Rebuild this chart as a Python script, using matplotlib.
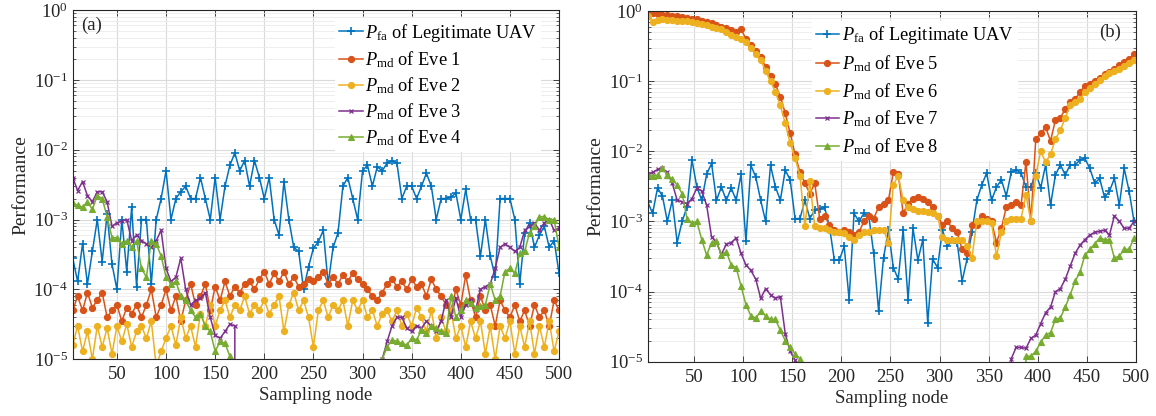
import numpy as np
import matplotlib
matplotlib.use("Agg")
import matplotlib.pyplot as plt

plt.rcParams['font.family'] = ['Liberation Serif', 'DejaVu Serif']
plt.rcParams['mathtext.fontset'] = 'custom'
plt.rcParams['mathtext.rm'] = 'Liberation Serif'
plt.rcParams['mathtext.it'] = 'Liberation Serif:italic'
plt.rcParams['mathtext.bf'] = 'Liberation Serif:bold'

# ---------------- data: panel (a) ----------------
x_a = np.arange(5, 501, 5)
pfa_a = [2.8e-4, 1.3e-4, 4.5e-4, 1.2e-4, 3.5e-4, 1.0e-3, 2.5e-4, 1.2e-3, 2.3e-4, 1.0e-4,
         1.0e-3, 1.8e-4, 1.5e-3, 1.1e-4, 1.0e-3, 1.0e-3, 1.2e-4, 1.0e-3, 2.0e-3, 5.0e-3,
         1.0e-3, 2.0e-3, 2.5e-3, 3.0e-3, 2.0e-3, 2.0e-3, 4.0e-3, 2.0e-3, 1.0e-3, 4.0e-3,
         1.0e-3, 3.0e-3, 6.0e-3, 9.0e-3, 5.0e-3, 7.0e-3, 3.0e-3, 7.0e-3, 4.0e-3, 2.0e-3,
         4.0e-3, 1.0e-3, 6.0e-4, 3.5e-3, 1.0e-3, 4.0e-4, 3.5e-4, 1.0e-4, 2.1e-4, 3.9e-4,
         4.8e-4, 7.0e-4, 1.2e-4, 4.0e-4, 6.4e-4, 3.0e-3, 4.0e-3, 2.0e-3, 1.0e-3, 5.0e-3,
         6.0e-3, 3.0e-3, 5.7e-3, 5.0e-3, 6.4e-3, 7.0e-3, 6.4e-3, 2.0e-3, 3.0e-3, 3.0e-3,
         2.0e-3, 3.0e-3, 4.6e-3, 3.0e-3, 1.0e-3, 2.0e-3, 2.0e-3, 2.1e-3, 2.4e-3, 1.0e-3,
         2.7e-3, 1.0e-3, 1.0e-3, 3.0e-4, 1.0e-3, 3.0e-4, 1.5e-4, 2.0e-3, 2.0e-3, 2.0e-3,
         1.0e-3, 1.2e-4, 6.4e-4, 9.0e-4, 4.0e-4, 6.0e-4, 8.0e-4, 4.0e-4, 5.0e-4, 1.7e-4]
eve1 = [5e-5, 8e-5, 5e-5, 9e-5, 5.5e-5, 7e-5, 9e-5, 4e-5, 5e-5, 6e-5,
        3.5e-5, 5.5e-5, 4.5e-5, 6e-5, 4e-5, 6e-5, 1e-4, 4e-5, 6e-5, 1e-4,
        5e-5, 8e-5, 3.5e-5, 7e-5, 1.2e-4, 6e-5, 8e-5, 1.2e-4, 5e-5, 1.1e-4,
        7e-5, 1.3e-4, 8e-5, 1.1e-4, 9e-5, 1.2e-4, 1.3e-4, 1e-4, 1.4e-4, 1.8e-4,
        1.2e-4, 1.7e-4, 1.3e-4, 1.8e-4, 1.2e-4, 1.5e-4, 1.1e-4, 1.2e-4, 1.4e-4, 1.3e-4,
        1.5e-4, 1.8e-4, 1.2e-4, 1.5e-4, 1.2e-4, 1.6e-4, 1.3e-4, 1.7e-4, 1.4e-4, 1.2e-4,
        1e-4, 8e-5, 7e-5, 9e-5, 1.2e-4, 1.4e-4, 1.1e-4, 1.3e-4, 1e-4, 1.4e-4,
        1.1e-4, 1.2e-4, 8e-5, 1.4e-4, 1e-4, 8e-5, 6e-5, 5e-5, 1e-4, 6e-5,
        1.6e-4, 7e-5, 4e-5, 8e-5, 5e-5, 6e-5, 3e-5, 7e-5, 5e-5, 4e-5,
        6e-5, 3.5e-5, 5e-5, 3e-5, 6e-5, 4e-5, 5e-5, 3e-5, 7e-5, 5e-5]
eve2 = [1.6e-5, 3e-5, 1.3e-5, 2.5e-5, 1e-5, 3e-5, 1.5e-5, 2.8e-5, 1.2e-5, 3e-5,
        1.8e-5, 3.2e-5, 1.5e-5, 2.5e-5, 3e-5, 2e-5, 3.5e-5, 8e-6, 1.3e-5, 2e-5,
        3e-5, 1.6e-5, 4e-5, 2e-5, 3e-5, 1.5e-5, 4.5e-5, 3e-5, 6e-5, 3e-5,
        5e-5, 7e-5, 4e-5, 6e-5, 5e-5, 8e-5, 4.5e-5, 6e-5, 5e-5, 7e-5,
        4.5e-5, 6e-5, 8e-5, 2.5e-5, 6e-5, 9e-5, 5e-5, 7e-5, 4e-5, 1.5e-5,
        5e-5, 7e-5, 4e-5, 6e-5, 5e-5, 7e-5, 3e-5, 7e-5, 5e-5, 7e-5,
        4e-5, 5e-5, 3e-5, 4.5e-5, 5e-5, 3.5e-5, 5e-5, 3e-5, 4.5e-5, 3e-5,
        5.5e-5, 4e-5, 2.5e-5, 5e-5, 2e-5, 4e-5, 2.5e-5, 5e-5, 2e-5, 3e-5,
        1.5e-5, 3.5e-5, 2e-5, 3.5e-5, 1.2e-5, 3e-5, 1e-5, 3e-5, 2e-5, 3.5e-5,
        1.2e-5, 3e-5, 1.5e-5, 3.5e-5, 1.2e-5, 3e-5, 1.5e-5, 3.5e-5, 1.3e-5, 2.5e-5]
eve3 = [4e-3, 2.6e-3, 3.5e-3, 2.2e-3, 1.8e-3, 2.5e-3, 2.5e-3, 1.8e-3, 8e-4, 9e-4,
        9.5e-4, 1e-3, 5e-4, 6e-4, 5e-4, 4.5e-4, 4e-4, 5e-4, 7e-4, 2e-4,
        1.3e-4, 1.5e-4, 2.8e-4, 1e-4, 6e-5, 7e-5, 7.5e-5, 9e-5, 4e-5, 2.2e-5,
        2e-5, 2.5e-5, 3.2e-5, 3e-5, 0, 0, 0, 0, 0, 0,
        0, 0, 0, 0, 0, 0, 0, 0, 0, 0,
        0, 0, 0, 0, 0, 0, 0, 0, 0, 0,
        0, 0, 0, 1e-5, 1.8e-5, 3e-5, 4e-5, 4e-5, 2.8e-5, 2.5e-5,
        3e-5, 2.8e-5, 3.5e-5, 3e-5, 2.5e-5, 3.5e-5, 7e-5, 4e-5, 7.5e-5, 4e-5,
        6e-5, 7e-5, 5e-5, 1e-4, 1.1e-4, 1.2e-4, 2e-4, 4e-4, 4.5e-4, 4e-4,
        3.5e-4, 4e-4, 7e-4, 8e-4, 9e-4, 7e-4, 9e-4, 1e-3, 7e-4, 7.5e-4]
eve4 = [1.7e-3, 1.6e-3, 1.5e-3, 1.8e-3, 1.4e-3, 2.2e-3, 2e-3, 1.1e-3, 5.5e-4, 5.5e-4,
        4.5e-4, 5e-4, 4e-4, 5e-4, 2e-4, 1.5e-4, 5e-4, 4.5e-4, 3e-4, 1.5e-4,
        1.2e-4, 1.3e-4, 8e-5, 7e-5, 5e-5, 4e-5, 4.5e-5, 3e-5, 2.5e-5, 1.3e-5,
        1.8e-5, 1.7e-5, 1.1e-5, 0, 0, 0, 0, 0, 0, 0,
        0, 0, 0, 0, 0, 0, 0, 0, 0, 0,
        0, 0, 0, 0, 0, 0, 0, 0, 0, 0,
        0, 0, 0, 1e-5, 1.5e-5, 1.9e-5, 1.8e-5, 1.7e-5, 1.6e-5, 2e-5,
        1.9e-5, 2.6e-5, 2.4e-5, 3e-5, 2.8e-5, 2.5e-5, 2.4e-5, 8e-5, 4e-5, 5e-5,
        7e-5, 6.5e-5, 5.5e-5, 5.7e-5, 6e-5, 1.2e-4, 7e-5, 8e-5, 1.8e-4, 2e-4,
        1.7e-4, 3.3e-4, 3.5e-4, 6.5e-4, 8e-4, 1.1e-3, 1.1e-3, 1e-3, 1e-3, 4e-4]

# ---------------- data: panel (b) ----------------
x_b = np.arange(3, 501, 5)
pfa_b = [1.9e-3, 1.3e-3, 3e-3, 2.3e-3, 1e-3, 2e-3, 5e-4, 1e-3, 1.6e-3, 7.6e-3,
         3.1e-3, 2e-3, 4.7e-3, 6.7e-3, 2e-3, 3.1e-3, 2e-3, 3e-3, 2e-3, 4.7e-3,
         5.2e-4, 6.3e-3, 4.3e-3, 2e-3, 1e-3, 6.3e-3, 3.1e-3, 2e-3, 5.4e-3, 3.9e-3,
         1.1e-3, 1.1e-3, 2e-3, 1.1e-3, 1.45e-3, 1.5e-3, 1.6e-3, 8.4e-4, 2.8e-4, 2.8e-4,
         4.4e-4, 7.7e-5, 1.3e-3, 1e-3, 1.3e-3, 1.2e-3, 3.5e-4, 5.3e-5, 3e-4, 7.6e-4,
         2.2e-4, 1.5e-4, 7.6e-4, 7.7e-5, 8e-4, 2.8e-4, 5.5e-4, 3.6e-5, 2.9e-4, 2.2e-4,
         7.6e-4, 4.4e-4, 5.5e-4, 5e-4, 1.4e-4, 2.9e-4, 7e-4, 2e-3, 3.3e-3, 4.9e-3,
         2e-3, 3.1e-3, 3.9e-3, 2.3e-3, 5e-3, 5.4e-3, 4.9e-3, 3.1e-3, 3.1e-3, 4.9e-3,
         3e-3, 6.4e-3, 1.7e-3, 4.6e-3, 6.4e-3, 4.6e-3, 6.4e-3, 6.4e-3, 7.5e-3, 7.9e-3,
         5.7e-3, 3.5e-3, 4.1e-3, 2.2e-3, 2.7e-3, 4.1e-3, 1.7e-3, 5.7e-3, 2.7e-3, 1e-3]
eve5 = [1.0, 0.93, 0.9, 0.88, 0.87, 0.86, 0.84, 0.82, 0.8, 0.78,
        0.76, 0.73, 0.7, 0.67, 0.64, 0.6, 0.57, 0.53, 0.5, 0.55,
        0.4, 0.33, 0.27, 0.22, 0.16, 0.12, 0.09, 0.06, 0.035, 0.018,
        9e-3, 5e-3, 3.5e-3, 2.5e-3, 3.5e-3, 1.1e-3, 1.2e-3, 9e-4, 7.5e-4, 7e-4,
        7.5e-4, 7e-4, 6.5e-4, 7e-4, 1e-3, 1.2e-3, 1.1e-3, 1.6e-3, 1.8e-3, 2e-3,
        5e-3, 4.8e-3, 1.3e-3, 1.8e-3, 2.1e-3, 2.2e-3, 2.1e-3, 1.9e-3, 1.6e-3, 1.2e-3,
        9e-4, 1e-3, 8e-4, 7e-4, 4e-4, 3.5e-4, 9e-4, 9e-4, 1.2e-3, 1.1e-3,
        1e-3, 5e-4, 8e-4, 1.6e-3, 1.7e-3, 1.9e-3, 1.7e-3, 7e-3, 1e-3, 1.5e-2,
        1.8e-2, 2.2e-2, 1.4e-2, 2.8e-2, 3e-2, 4e-2, 5e-2, 5.5e-2, 7e-2, 8.5e-2,
        9e-2, 0.1, 0.11, 0.125, 0.135, 0.15, 0.17, 0.19, 0.21, 0.24]
eve6 = [0.85, 0.7, 0.75, 0.76, 0.75, 0.74, 0.73, 0.72, 0.71, 0.7,
        0.68, 0.66, 0.63, 0.6, 0.57, 0.55, 0.5, 0.46, 0.42, 0.4,
        0.36, 0.3, 0.24, 0.2, 0.14, 0.1, 0.07, 0.045, 0.025, 0.013,
        8e-3, 4.5e-3, 8.5e-4, 3.8e-3, 8.5e-4, 8e-4, 8e-4, 7.6e-4, 7e-4, 7e-4,
        6.8e-4, 6e-4, 5.5e-4, 6.5e-4, 7e-4, 7e-4, 7.5e-4, 7.6e-4, 7.6e-4, 5e-4,
        3.3e-3, 4.5e-3, 2e-3, 1.6e-3, 1.5e-3, 1.4e-3, 1.4e-3, 1.35e-3, 1.3e-3, 1.2e-3,
        6e-4, 5.5e-4, 5.5e-4, 5.5e-4, 5.5e-4, 4.5e-4, 3e-4, 1e-3, 1e-3, 1e-3,
        9.5e-4, 3.2e-4, 7e-4, 1e-3, 1.1e-3, 1.1e-3, 1.1e-3, 2.4e-3, 1e-3, 4.5e-3,
        1e-2, 7e-3, 9e-3, 1.5e-2, 2e-2, 3e-2, 4.5e-2, 5e-2, 5.5e-2, 7e-2,
        8e-2, 9e-2, 0.105, 0.12, 0.13, 0.14, 0.15, 0.165, 0.18, 0.2]
eve7 = [4.6e-3, 5e-3, 5.5e-3, 5.7e-3, 5e-3, 3.5e-3, 2e-3, 1.9e-3, 1.8e-3, 2.1e-3,
        3e-3, 2.7e-3, 1.7e-3, 6e-4, 5e-4, 3.4e-4, 4.7e-4, 5e-4, 5.8e-4, 3.5e-4,
        2.4e-4, 2e-4, 1.5e-4, 8e-5, 1.1e-4, 9e-5, 8e-5, 8.5e-5, 2.5e-5, 1.4e-5,
        1.05e-5, 0, 0, 0, 0, 0, 0, 0, 0, 0,
        0, 0, 0, 0, 0, 0, 0, 0, 0, 0,
        0, 0, 0, 0, 0, 0, 0, 0, 0, 0,
        0, 0, 0, 0, 0, 0, 0, 0, 0, 0,
        0, 0, 0, 0, 1.1e-5, 1.6e-5, 1.6e-5, 1.55e-5, 2.15e-5, 2.4e-5,
        3.5e-5, 5e-5, 6e-5, 1e-4, 1.1e-4, 1.5e-4, 2.3e-4, 3.5e-4, 4.6e-4, 5.5e-4,
        6.4e-4, 7e-4, 7.2e-4, 7.5e-4, 6.4e-4, 1.2e-3, 1e-3, 8e-4, 8e-4, 1e-3]
eve8 = [4.6e-3, 4.4e-3, 4.6e-3, 5.7e-3, 4.6e-3, 4e-3, 3.3e-3, 2.5e-3, 1.1e-3, 9.5e-4,
        1e-3, 5.5e-4, 3.3e-4, 5e-4, 5.2e-4, 3.3e-4, 3.7e-4, 2.4e-4, 2.2e-4, 1.2e-4,
        6.5e-5, 4.5e-5, 4.2e-5, 5.2e-5, 4.5e-5, 4e-5, 4e-5, 2.8e-5, 2e-5, 1.6e-5,
        1.3e-5, 1.1e-5, 0, 0, 0, 0, 0, 0, 0, 0,
        0, 0, 0, 0, 0, 0, 0, 0, 0, 0,
        0, 0, 0, 0, 0, 0, 0, 0, 0, 0,
        0, 0, 0, 0, 0, 0, 0, 0, 0, 0,
        0, 0, 0, 0, 0, 0, 0, 1.2e-5, 1.2e-5, 1.4e-5,
        1.9e-5, 2.4e-5, 2.6e-5, 4e-5, 4.2e-5, 6e-5, 9e-5, 1.4e-4, 1.9e-4, 3.3e-4,
        4e-4, 4.8e-4, 5.8e-4, 5.5e-4, 5.5e-4, 3e-4, 3.2e-4, 4e-4, 4e-4, 5.8e-4]

labels_a = [r'$P_{\mathrm{fa}}$ of Legitimate UAV', r'$P_{\mathrm{md}}$ of Eve 1',
            r'$P_{\mathrm{md}}$ of Eve 2', r'$P_{\mathrm{md}}$ of Eve 3', r'$P_{\mathrm{md}}$ of Eve 4']
labels_b = [r'$P_{\mathrm{fa}}$ of Legitimate UAV', r'$P_{\mathrm{md}}$ of Eve 5',
            r'$P_{\mathrm{md}}$ of Eve 6', r'$P_{\mathrm{md}}$ of Eve 7', r'$P_{\mathrm{md}}$ of Eve 8']
xticks = [50, 100, 150, 200, 250, 300, 350, 400, 450, 500]

colors = ['#0072BD', '#D95319', '#EDB120', '#7E2F8E', '#77AC30']
styles = [dict(marker='+', ms=5.5, mew=1.2),
          dict(marker='o', ms=4.4, mew=0.8),
          dict(marker='o', ms=4.4, mew=0.8),
          dict(marker='x', ms=3.2, mew=0.9),
          dict(marker='^', ms=5.0, mew=0.8)]

fig = plt.figure(figsize=(11.56, 4.16), dpi=100)
ax_a = fig.add_axes([0.0629, 0.1363, 0.4207, 0.8397])
ax_b = fig.add_axes([0.5603, 0.1305, 0.4224, 0.8431])


def draw(ax, x, series, labels, xmin, tag, tagpos, legpos, lspace):
    ax.set_yscale('log', nonpositive='clip')
    handles = []
    for s, c, st, lab in zip(series, colors, styles, labels):
        h, = ax.plot(x, s, color=c, lw=1.1, mfc=c, mec=c, label=lab, **st)
        handles.append(h)
    ax.set_xlim(xmin, 500)
    ax.set_ylim(1e-5, 1)
    ax.set_xticks(xticks)
    ax.set_yticks([1e-5, 1e-4, 1e-3, 1e-2, 1e-1, 1])
    ax.grid(True, which='major', color='#dadada', lw=0.8)
    ax.grid(True, which='minor', axis='y', color='#ebebeb', lw=0.6)
    ax.tick_params(which='both', direction='in', top=True, right=True,
                   colors='#262626', labelsize=13.5, labelcolor='#262626')
    ax.tick_params(which='major', length=4, width=0.6)
    ax.tick_params(which='minor', length=2, width=0.5)
    ax.tick_params(axis='x', pad=5)
    for sp in ax.spines.values():
        sp.set_color('#262626')
        sp.set_linewidth(0.8)
    ax.set_xlabel('Sampling node', fontsize=13.5, color='#262626', labelpad=3)
    ax.set_ylabel('Performance', fontsize=14, color='#262626', labelpad=3)
    ax.text(tagpos[0], tagpos[1], tag, transform=ax.transAxes, fontsize=13.5,
            color='#262626', ha='left', va='center')
    leg = ax.legend(handles=handles, loc='upper right', bbox_to_anchor=legpos,
                    fontsize=13.2, frameon=True, facecolor='white', edgecolor='none',
                    framealpha=1.0, fancybox=False, handlelength=1.3,
                    handletextpad=0.15, labelspacing=lspace, borderpad=0.2,
                    borderaxespad=0.0)
    leg.set_zorder(5)


draw(ax_a, x_a, [pfa_a, eve1, eve2, eve3, eve4], labels_a, 5, '(a)', (0.018, 0.955),
     (0.963, 0.977), 0.3)
draw(ax_b, x_b, [pfa_b, eve5, eve6, eve7, eve8], labels_b, 3, '(b)', (0.925, 0.94),
     (0.758, 0.972), 0.38)

fig.savefig('out.png', dpi=100)
